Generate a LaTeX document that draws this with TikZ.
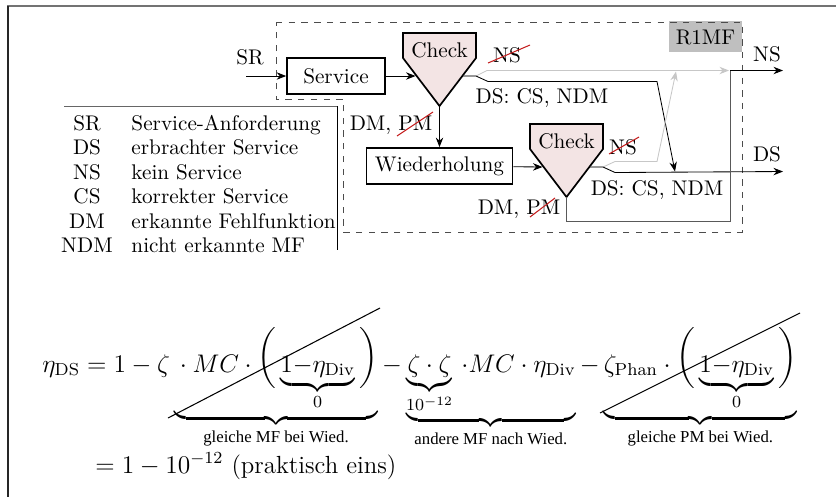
\documentclass[tikz,border=0pt]{standalone}
\usepackage{fontspec}
\usepackage{amsmath}
\usetikzlibrary{arrows.meta}
\newfontfamily\bracefont{Liberation Serif}
\definecolor{checkfill}{HTML}{F3E4E4}
\definecolor{strikered}{HTML}{C41E1E}
\def\bigopen{\raisebox{3.5pt}{$\nulldelimiterspace=0pt\displaystyle\left(\vrule height 15pt depth 9.5pt width 0pt\right.$}}
\def\bigclose{\raisebox{3.5pt}{$\nulldelimiterspace=0pt\displaystyle\left.\vrule height 15pt depth 9.5pt width 0pt\right)$}}
\def\bracelabel#1{\mbox{\bracefont\fontsize{7.9}{9}\selectfont #1}}
\def\checkgate(#1)(#2,#3){%
  \draw[gate] (#2-36.5,#3) -- (#2+36.5,#3) -- (#2+36.5,#3+25) -- (#2,#3+73) -- (#2-36.5,#3+25) -- cycle;
  \node (#1) at (#2,#3+17.5) {Check};
  \coordinate (#1-in) at (#2-24,#3+43);
  \coordinate (#1-out) at (#2+23.5,#3+43);
  \coordinate (#1-sp) at (#2+36.5,#3+43);
  \coordinate (#1-tip) at (#2,#3+73);}

\begin{document}
\begin{tikzpicture}[x=0.4717pt,y=-0.4717pt,
    block/.style={draw,thick,minimum height=17pt,inner xsep=4pt},
    gate/.style={draw,thick,fill=checkfill},
    arr/.style={-{Stealth[length=4.5pt,width=3.5pt]}},
    grayarr/.style={arr,black!22},
    strike/.style={strikered,line width=0.5pt}]
	%%%%% START %%%%%
	\useasboundingbox (0,0) rectangle (836,497);

	% frame
	\draw[black!55,line width=1pt] (7,6) -- (836,6);
	\draw[black!85,line width=0.8pt] (8,6) -- (8,497);

	% R1MF region
	\fill[black!25] (669,21) rectangle (742,52);
	\node (r1mf) at (705.5,37) {R1MF};
	\draw[dashed,black!70] (276,22) -- (742,22) -- (742,232) -- (343,232) -- (343,99) -- (276,99) -- cycle;

	% blocks
	\node (sr) at (250,57.5) {SR};
	\coordinate (srin) at (246,76);
	\node[block,minimum width=46.2pt] (srv) at (336,76) {Service};
	\node[block] (wdh) at (439.5,166) {Wiederholung};

	\checkgate(chkA)(439.5,33)
	\checkgate(chkB)(566.5,124)

	\coordinate (nsin) at (729,70.5);
	\coordinate (nsup) at (676,71.5);
	\coordinate (nscorner) at (730,70.5);
	\coordinate (nsend) at (783,70.5);
	\coordinate (dsjoin) at (675,171.5);
	\coordinate (dsend) at (783,171.5);

	\draw[arr] (srin) -- (srv);
	\draw[arr] (srv) -- (chkA-in);
	\draw[arr] (chkA-tip) -- (wdh);
	\draw[arr] (wdh) -- (chkB-in);

	% outputs, first check
	\draw[grayarr] (chkA-out) -- (chkA-sp) -- ++(11,-5.5) -- (nsin);
	\draw[arr] (chkA-out) -- (chkA-sp) -- ++(12,5.5) -- ++(169,0) -- (dsjoin);

	% outputs, second check
	\draw[grayarr] (chkB-out) -- (chkB-sp) -- ++(12,-5.5) -- ++(42,0) -- (nsup);
	\draw[arr] (chkB-out) -- (chkB-sp) -- ++(12,5.5) -- (dsend);
	\draw[black!65] (chkB-tip) -- ++(0,24) -| (nscorner);
	\draw[arr] (nscorner) -- (nsend);

	% labels
	\node (nsA) at (507,55) {NS};
	\draw[strike] (488,63) -- (530,45);
	\node (dsA) at (542,98) {DS: CS, NDM};
	\node (dmA) at (391,125) {DM, PM};
	\draw[strike] (397,136) -- (433,112);
	\node (nsB) at (623,147) {NS};
	\draw[strike] (609,154) -- (639,137);
	\node (dsB) at (657,190) {DS: CS, NDM};
	\node (dmB) at (519,209) {DM, PM};
	\draw[strike] (530,217) -- (555,198);
	\node (nsOut) at (767,54) {NS};
	\node (dsOut) at (767,154) {DS};

	% legend
	\draw[black!60] (64,106) -- (337,106);
	\draw (337,106) -- (337,250);
	\foreach \ab/\txt [count=\i] in {SR/Service-Anforderung, DS/erbrachter Service, NS/kein Service,
	    CS/korrekter Service, DM/erkannte Fehlfunktion, NDM/nicht erkannte MF}{
		\node[anchor=base] (ab\i) at (87,{130.5+24.4*(\i-1)}) {\ab};
		\node[anchor=base west] (tx\i) at (124,{130.5+24.4*(\i-1)}) {\txt};
	}

	% equation
	\node[anchor=base west,inner sep=0pt,font=\fontsize{11.7}{14}\selectfont] (etaDS) at (42,372)
	  {$\displaystyle \eta_{\mathrm{DS}} = 1 - \zeta\underbrace{{}\cdot MC\cdot\bigopen\underbrace{1{-}\eta_{\mathrm{Div}}}_{0}\bigclose}_{\bracelabel{gleiche MF bei Wied.}}
	  - \underbrace{\underbrace{\zeta\cdot\zeta}_{10^{-12}}\,{\cdot}MC\cdot\eta_{\mathrm{Div}}}_{\bracelabel{andere MF nach Wied.}}
	  - \underbrace{\zeta_{\mathrm{Phan}}\cdot\bigopen\underbrace{1{-}\eta_{\mathrm{Div}}}_{0}\bigclose}_{\bracelabel{gleiche PM bei Wied.}}$};
	\draw[line width=0.5pt] (168,418) -- (380,308);
	\draw[line width=0.5pt] (600,413) -- (800,313);
	\node[anchor=base west,inner sep=0pt,font=\fontsize{11.7}{14}\selectfont] (praktEins) at (95,473)
	  {$= 1 - 10^{-12}$ (praktisch eins)};
	%%%%% END %%%%%
\end{tikzpicture}
\end{document}
